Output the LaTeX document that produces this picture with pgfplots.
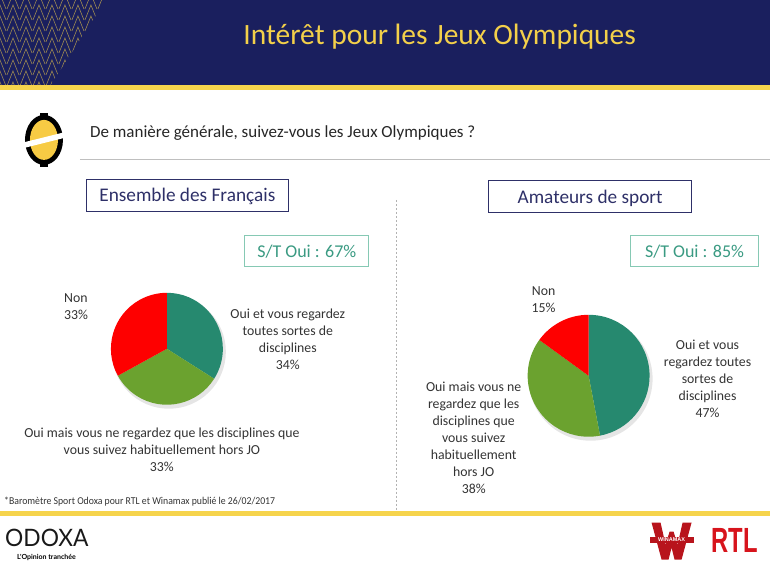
\documentclass[border=0pt]{standalone}
\usepackage{pgfplots}
\pgfplotsset{compat=1.18}
\usepackage{fontspec}
\setmainfont{Carlito}
\newfontfamily\logofont{Lato}
\newfontfamily\rtlfont{Liberation Sans}

\definecolor{navy}{HTML}{1A1F5E}
\definecolor{gold}{HTML}{F3D04A}
\definecolor{stripe}{HTML}{F6D44C}
\definecolor{boxnavy}{HTML}{2E3068}
\definecolor{stborder}{HTML}{86C9B4}
\definecolor{sttext}{HTML}{3A9A82}
\definecolor{pieteal}{HTML}{26896F}
\definecolor{piegreen}{HTML}{6BA22F}
\definecolor{piered}{HTML}{FE0000}
\definecolor{labgray}{HTML}{333333}
\definecolor{brandred}{HTML}{D7141C}
\definecolor{winared}{HTML}{B8141C}

% slice from cumulative percent #1 to #2, colour #3, radius #4
\newcommand\slice[4]{%
  \fill[#3] (axis cs:0,0) -- ++({90-3.6*#1}:#4)
    arc[start angle={90-3.6*#1}, end angle={90-3.6*#2}, radius=#4] -- cycle;}

\pgfplotsset{pie/.style={anchor=center, hide axis, clip=false,
  xmin=-1, xmax=1, ymin=-1, ymax=1}}

\begin{document}
\begin{tikzpicture}[x=1pt,y=1pt]
\path (0,0) rectangle (770,567);

% header band
\fill[navy] (0,481) rectangle (770,567);
\fill[stripe] (0,477) rectangle (770,481.5);
\begin{scope}
  \clip (0,481) -- (0,567) -- (106,567) -- (50,481) -- cycle;
  \foreach \i in {0,...,8}
    \foreach \j in {-1,...,8}
      \draw[gold, opacity=.6, line width=.6pt]
        ({\i*13-6},{481+\j*11}) -- ({\i*13},{481+\j*11+15}) -- ({\i*13+6},{481+\j*11});
\end{scope}
\node[text=gold, font=\fontsize{29.5}{34}\selectfont] at (440,530) {Intérêt pour les Jeux Olympiques};

% question
\fill[black] (44,427) ellipse[x radius=19, y radius=25];
\fill[black] (40,449) rectangle (48,454);
\fill[black] (40,400) rectangle (48,405);
\fill[stripe!90!orange] (44,427) ellipse[x radius=14, y radius=20];
\fill[white, rotate around={14:(44,427)}] (20,424) rectangle (66,429.5);
\node[anchor=west, text=black!85, font=\fontsize{17}{20}\selectfont, inner sep=0pt] at (90,434)
  {De manière générale, suivez-vous les Jeux Olympiques ?};
\draw[black!25, line width=1pt] (80,407) -- (770,407);

% section boxes
\draw[boxnavy, line width=.8pt] (86,387) rectangle (289,355);
\node[text=boxnavy, font=\fontsize{19.3}{22}\selectfont] at (187.5,370) {Ensemble des Français};
\draw[boxnavy, line width=.8pt] (489,386) rectangle (692,354);
\node[text=boxnavy, font=\fontsize{19.3}{22}\selectfont] at (590.5,369) {Amateurs de sport};
\draw[black!30, dash pattern=on 2pt off 2pt, line width=.6pt] (397,367) -- (397,55);

\draw[stborder, line width=.8pt] (245,331) rectangle (369,300);
\node[text=sttext, font=\fontsize{18}{20}\selectfont] at (307,315.5) {S/T Oui : 67\%};
\draw[stborder, line width=.8pt] (631,331) rectangle (759,300);
\node[text=sttext, font=\fontsize{18}{20}\selectfont] at (695,315.5) {S/T Oui : 85\%};

% left pie: 34 / 33 / 33
\begin{axis}[pie, at={(167pt,218pt)}, x=56pt, y=56pt]
  \fill[black, opacity=.10] (axis cs:0,0) ++(2pt,-3pt) circle[radius=57pt];
  \slice{0}{34}{pieteal}{56pt}
  \slice{34}{67}{piegreen}{56pt}
  \slice{67}{100}{piered}{56pt}
\end{axis}

% right pie: 47 / 38 / 15
\begin{axis}[pie, at={(589pt,191pt)}, x=61pt, y=61pt]
  \fill[black, opacity=.10] (axis cs:0,0) ++(2pt,-3pt) circle[radius=62pt];
  \slice{0}{47}{pieteal}{61pt}
  \slice{47}{85}{piegreen}{61pt}
  \slice{85}{100}{piered}{61pt}
\end{axis}

% pie labels
\tikzset{lab/.style={text=labgray, align=center, font=\fontsize{13.8}{17}\selectfont}}
\node[lab] at (76,260.5) {Non\\33\%};
\node[lab] at (288,227.5) {Oui et vous regardez\\toutes sortes de\\disciplines\\34\%};
\node[lab] at (162,116.5) {Oui mais vous ne regardez que les disciplines que\\vous suivez habituellement hors JO\\33\%};
\node[lab] at (544,267) {Non\\15\%};
\node[lab] at (708,188) {Oui et vous\\regardez toutes\\sortes de\\disciplines\\47\%};
\node[lab] at (474,129) {Oui mais vous ne\\regardez que les\\disciplines que\\vous suivez\\habituellement\\hors JO\\38\%};

% footer
\node[anchor=west, text=black!80, font=\fontsize{10.5}{12}\selectfont, xscale=.93, inner sep=0pt] at (4,65)
  {*Baromètre Sport Odoxa pour RTL et Winamax publié le 26/02/2017};
\fill[stripe] (0,51) rectangle (770,56);
\node[anchor=west, text=black!90, font=\logofont\fontsize{24}{28}\selectfont, inner sep=0pt, xscale=.95] at (5,29) {ODOXA};
\node[anchor=west, font=\logofont\bfseries\fontsize{7}{9}\selectfont, inner sep=0pt] at (17,9) {L'Opinion tranchée};
% winamax W
\fill[winared] (652,44) -- (661,44) -- (666,22) -- (670,35) -- (674,35) -- (678,22)
  -- (683,44) -- (692,44) -- (682,7) -- (675,7) -- (672,19) -- (669,7) -- (662,7) -- cycle;
\fill[winared] (650,24) rectangle (694,30);
\node[text=white, font=\rtlfont\bfseries\fontsize{5.5}{6}\selectfont, inner sep=0pt] at (672,27) {WINAMAX};
\node[text=brandred, font=\rtlfont\bfseries\fontsize{35}{35}\selectfont, xscale=.68, inner sep=0pt, anchor=base] at (735,14) {RTL};
\end{tikzpicture}
\end{document}
